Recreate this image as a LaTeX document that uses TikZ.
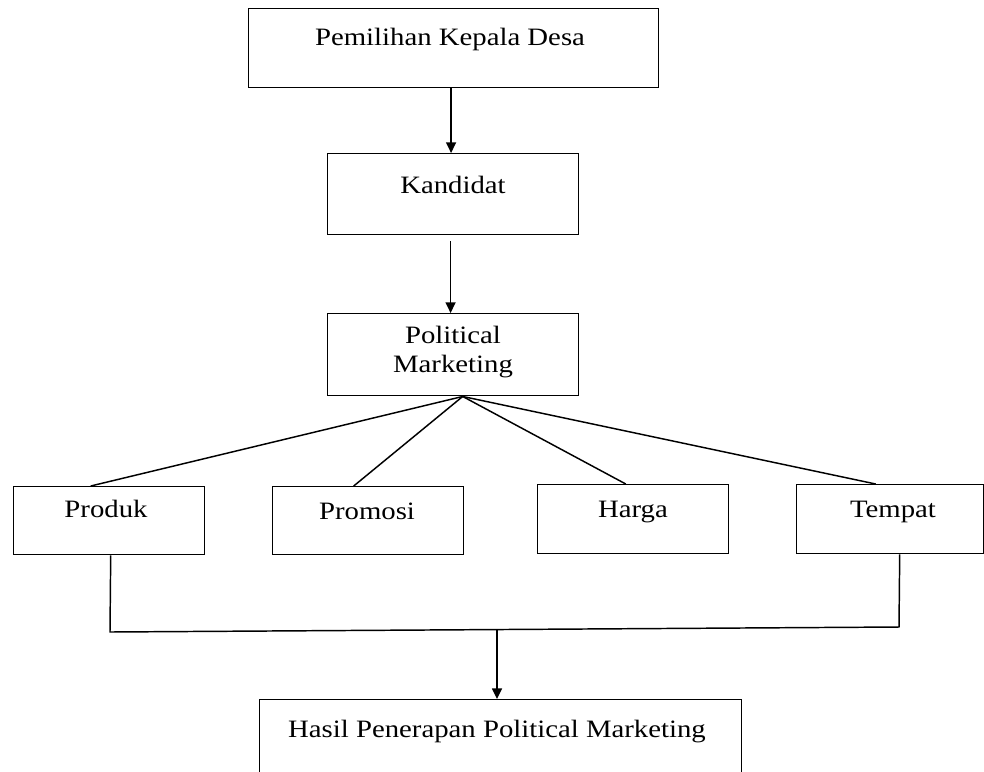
\documentclass[tikz,border=0pt]{standalone}
\usepackage{fontspec}
\setmainfont{Liberation Serif}[FakeStretch=1.15]
\usetikzlibrary{arrows.meta}
\begin{document}
\begin{tikzpicture}[x=0.75pt,y=-0.75pt,
  box/.style={draw, line width=1.1pt, rectangle, inner sep=0pt, anchor=north west},
  lbl/.style={anchor=base, inner sep=0pt, font=\fontsize{18.75}{22}\selectfont},
  conn/.style={line width=1.1pt},
  arr/.style={line width=1.1pt, -{Triangle[length=8pt,width=7.5pt]}}]
\useasboundingbox (0,0) rectangle (984,771);
\clip (0,0) rectangle (984,771);
% boxes
\node[box, minimum width=307.5pt, minimum height=59.25pt] (top) at (248,8) {};
\node[box, minimum width=188.25pt, minimum height=60.75pt] (kand) at (327,153) {};
\node[box, minimum width=188.25pt, minimum height=61.5pt] (pol) at (327,313) {};
\node[box, minimum width=143.25pt, minimum height=51pt] (prod) at (13,486) {};
\node[box, minimum width=143.25pt, minimum height=51pt] (prom) at (272,486) {};
\node[box, minimum width=143.25pt, minimum height=51.75pt] (harga) at (537,484) {};
\node[box, minimum width=140.25pt, minimum height=51.75pt] (tempat) at (796,484) {};
\node[box, minimum width=361.5pt, minimum height=75pt] (hasil) at (259,699) {};
% labels
\node[lbl] (ttop) at (450,45) {Pemilihan Kepala Desa};
\node[lbl] (tkand) at (453,193) {Kandidat};
\node[lbl] (tpol1) at (453,343) {Political};
\node[lbl] (tpol2) at (453,372) {Marketing};
\node[lbl] (tprod) at (106,517) {Produk};
\node[lbl] (tprom) at (367,519) {Promosi};
\node[lbl] (tharga) at (633,517) {Harga};
\node[lbl] (ttempat) at (893,517) {Tempat};
\node[lbl] (thasil) at (497,737) {Hasil Penerapan Political Marketing};
% arrows top
\draw[arr] ([xshift=-2pt]top.south) -- ([xshift=-2pt]top.south |- kand.north);
\draw[arr] ([xshift=-2pt,yshift=-4.5pt]kand.south) -- ([xshift=-2pt]kand.south |- pol.north);
% fan-out
\coordinate (hub) at ([xshift=7.1pt]pol.south);
\draw[conn] (hub) -- ([xshift=-13.9pt]prod.north);
\draw[conn] (hub) -- ([xshift=-10.9pt]prom.north);
\draw[conn] (hub) -- ([xshift=-5.6pt]harga.north);
\draw[conn] (hub) -- ([xshift=-10.9pt]tempat.north);
% merge
\coordinate (ml) at (110,632);
\coordinate (mr) at (899,627);
\coordinate (j) at (497,629.8);
\draw[conn] ([xshift=1.1pt]prod.south) -- (ml) -- (mr) -- ([xshift=7.1pt]tempat.south);
\draw[arr] (j) -- (j |- hasil.north);
\end{tikzpicture}
\end{document}
